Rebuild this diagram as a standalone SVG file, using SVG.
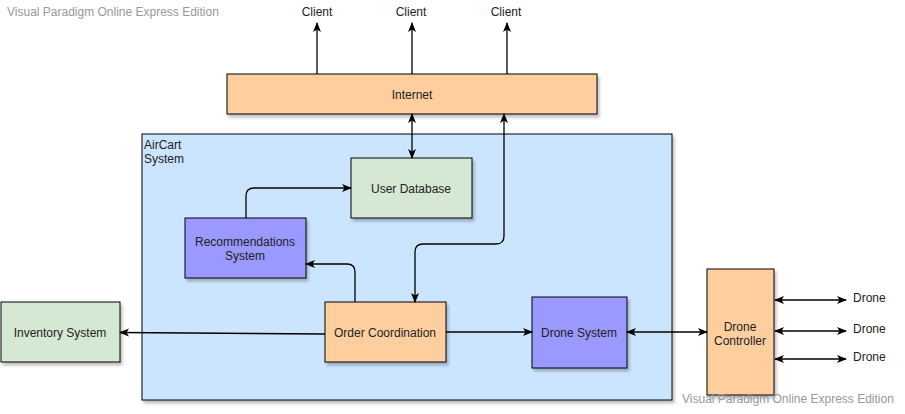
<svg xmlns="http://www.w3.org/2000/svg" width="905" height="414" viewBox="0 0 905 414">
<style>
text{font-family:"Liberation Sans",Arial,sans-serif;font-size:12px;fill:#222;}
.wm{fill:#999;font-size:12px;}
.box{stroke:#000;stroke-width:1;}
.c{fill:none;stroke:#000;stroke-width:1.3;}
</style>
<defs>
<filter id="sh" x="-10%" y="-10%" width="130%" height="140%">
<feDropShadow dx="2" dy="3" stdDeviation="1.5" flood-color="#000" flood-opacity="0.25"/>
</filter>
<marker id="ah" viewBox="0 0 10 10" refX="9" refY="5" markerWidth="10" markerHeight="10" markerUnits="userSpaceOnUse" orient="auto-start-reverse">
<path d="M0,1 L10,5 L0,9 L2.5,5 Z" fill="#000"/>
</marker>
</defs>
<rect width="905" height="414" fill="#fff"/>
<text class="wm" x="7" y="16">Visual Paradigm Online Express Edition</text>

<g id="aircart">
<rect class="box" x="142" y="134" width="530" height="266" fill="#cce5ff" filter="url(#sh)"/>
<text x="144" y="149">AirCart</text>
<text x="144" y="163">System</text>
</g>

<g id="internet">
<rect class="box" x="227" y="74" width="370" height="40" fill="#ffce9f" filter="url(#sh)"/>
<text x="412" y="99" text-anchor="middle">Internet</text>
</g>

<g id="client1"><text x="317" y="16" text-anchor="middle">Client</text></g>
<g id="client2"><text x="411" y="16" text-anchor="middle">Client</text></g>
<g id="client3"><text x="506" y="16" text-anchor="middle">Client</text></g>

<g id="userdb">
<rect class="box" x="351" y="158" width="121" height="60" fill="#d5e8d4" filter="url(#sh)"/>
<text x="411" y="193" text-anchor="middle">User Database</text>
</g>

<g id="recommend">
<rect class="box" x="185" y="218" width="121" height="60" fill="#9999ff" filter="url(#sh)"/>
<text x="245" y="246" text-anchor="middle">Recommendations</text>
<text x="245" y="260" text-anchor="middle">System</text>
</g>

<g id="order">
<rect class="box" x="325" y="302" width="121" height="60" fill="#ffce9f" filter="url(#sh)"/>
<text x="385" y="337" text-anchor="middle">Order Coordination</text>
</g>

<g id="inventory">
<rect class="box" x="1" y="302" width="119" height="60" fill="#d5e8d4" filter="url(#sh)"/>
<text x="60" y="337" text-anchor="middle">Inventory System</text>
</g>

<g id="dronesys">
<rect class="box" x="532" y="297" width="95" height="71" fill="#9999ff" filter="url(#sh)"/>
<text x="579" y="337" text-anchor="middle">Drone System</text>
</g>

<g id="controller">
<rect class="box" x="707" y="269" width="67" height="126" fill="#ffce9f" filter="url(#sh)"/>
<text x="740" y="331" text-anchor="middle">Drone</text>
<text x="740" y="345" text-anchor="middle">Controller</text>
</g>

<g id="drone1"><text x="853" y="302">Drone</text></g>
<g id="drone2"><text x="853" y="333">Drone</text></g>
<g id="drone3"><text x="853" y="361">Drone</text></g>

<text class="wm" x="682" y="403">Visual Paradigm Online Express Edition</text>

<g id="connectors">
<path class="c" d="M317,74 V23" marker-end="url(#ah)"/>
<path class="c" d="M412,74 V23" marker-end="url(#ah)"/>
<path class="c" d="M507,74 V23" marker-end="url(#ah)"/>
<path class="c" d="M412,114 V158" marker-start="url(#ah)" marker-end="url(#ah)"/>
<path class="c" d="M504,114 V236 Q504,244 496,244 H423 Q415,244 415,252 V302" marker-start="url(#ah)" marker-end="url(#ah)"/>
<path class="c" d="M246,218 V196 Q246,188 254,188 H351" marker-end="url(#ah)"/>
<path class="c" d="M355,302 V272 Q355,264 347,264 H306" marker-end="url(#ah)"/>
<path class="c" d="M325,334 L120,332.5" marker-end="url(#ah)"/>
<path class="c" d="M446,332 H532" marker-end="url(#ah)"/>
<path class="c" d="M627,332 H707" marker-start="url(#ah)" marker-end="url(#ah)"/>
<path class="c" d="M775,300 H846" marker-start="url(#ah)" marker-end="url(#ah)"/>
<path class="c" d="M775,331 H846" marker-start="url(#ah)" marker-end="url(#ah)"/>
<path class="c" d="M775,359 H846" marker-start="url(#ah)" marker-end="url(#ah)"/>
</g>
</svg>
